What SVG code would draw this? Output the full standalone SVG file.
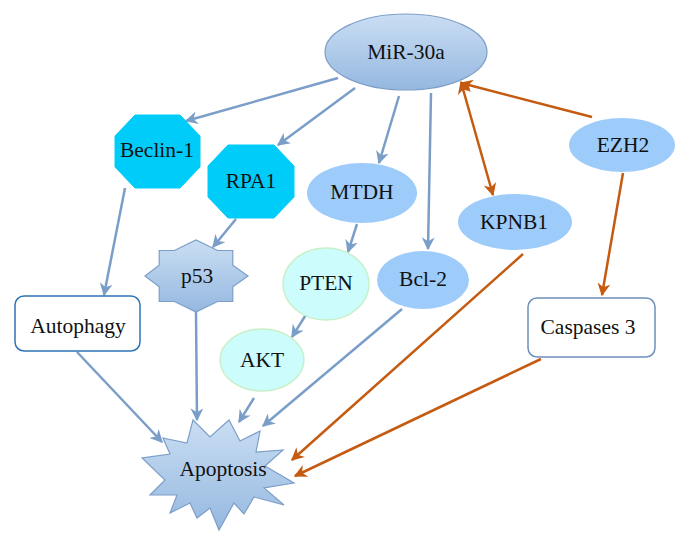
<svg xmlns="http://www.w3.org/2000/svg" width="690" height="546" viewBox="0 0 690 546">
<defs>
<linearGradient id="g" x1="0" y1="0" x2="0" y2="1">
<stop offset="0" stop-color="#cadef3"/>
<stop offset="1" stop-color="#95b8e0"/>
</linearGradient>
<marker id="ab" viewBox="0 0 10 10" refX="9" refY="5" markerWidth="13" markerHeight="13" markerUnits="userSpaceOnUse" orient="auto-start-reverse">
<path d="M0,0 L10,5 L0,10 L3,5 z" fill="#7b9ec9"/>
</marker>
<marker id="ao" viewBox="0 0 10 10" refX="9" refY="5" markerWidth="13" markerHeight="13" markerUnits="userSpaceOnUse" orient="auto-start-reverse">
<path d="M0,0 L10,5 L0,10 L3,5 z" fill="#c55a11"/>
</marker>
<style>
text{font-family:"Liberation Serif","DejaVu Serif",serif;font-size:21.5px;fill:#111;text-anchor:middle}
.grad{fill:url(#g);stroke:#7d9ec8;stroke-width:1.2}
.oct{fill:#00ccfa;stroke:#00ccfa}
.ell{fill:#9dcbfa}
.pale{fill:#ccfcfc;stroke:#c8f0c8;stroke-width:1.5}
.box{fill:#fff;stroke-width:1.5}
.b{stroke:#7b9ec9;stroke-width:2.5;fill:none;marker-end:url(#ab)}
.o{stroke:#c55a11;stroke-width:2.5;fill:none;marker-end:url(#ao)}
</style>
</defs>
<g id="connectors">
<line class="b" x1="338" y1="78" x2="186" y2="121"/>
<line class="b" x1="355" y1="88" x2="278" y2="145"/>
<line class="b" x1="399" y1="96" x2="379" y2="163"/>
<line class="b" x1="431" y1="93" x2="428" y2="249"/>
<line class="o" x1="493" y1="195" x2="461" y2="82" marker-start="url(#ao)"/>
<line class="o" x1="592" y1="117" x2="461" y2="83"/>
<line class="o" x1="623" y1="173" x2="602" y2="295"/>
<line class="b" x1="125" y1="188" x2="104" y2="295"/>
<line class="b" x1="236" y1="219" x2="213" y2="247"/>
<line class="b" x1="357" y1="224" x2="348" y2="252"/>
<line class="b" x1="307" y1="313" x2="292" y2="337"/>
<line class="b" x1="196" y1="312" x2="197" y2="420"/>
<line class="b" x1="77" y1="352" x2="162" y2="442"/>
<line class="b" x1="254" y1="398" x2="239" y2="422"/>
<line class="b" x1="402" y1="309" x2="263" y2="426"/>
<line class="o" x1="523" y1="254" x2="292" y2="460"/>
<line class="o" x1="541" y1="359" x2="295" y2="476"/>
</g>
<g id="mir30a">
<ellipse class="grad" cx="406" cy="52" rx="81" ry="38"/>
<text x="406" y="59">MiR-30a</text>
</g>
<g id="beclin1">
<polygon class="oct" points="135,115 180,115 200,136 200,167 180,188 135,188 115,167 115,136"/>
<text x="157" y="157">Beclin-1</text>
</g>
<g id="rpa1">
<polygon class="oct" points="228,145 274,145 294,166 294,197 274,218 228,218 208,197 208,166"/>
<text x="251" y="188">RPA1</text>
</g>
<g id="mtdh">
<ellipse class="ell" cx="362" cy="193" rx="55" ry="30"/>
<text x="362" y="199">MTDH</text>
</g>
<g id="kpnb1">
<ellipse class="ell" cx="515" cy="222" rx="57" ry="28"/>
<text x="514" y="229">KPNB1</text>
</g>
<g id="ezh2">
<ellipse class="ell" cx="622" cy="145" rx="53" ry="27"/>
<text x="623" y="152">EZH2</text>
</g>
<g id="bcl2">
<ellipse class="ell" cx="423" cy="280" rx="46" ry="29"/>
<text x="423" y="286">Bcl-2</text>
</g>
<g id="p53">
<polygon class="grad" points="248,276 232.8,286.8 232.8,301.5 217.6,301.5 196,312 174.4,301.5 159.2,301.5 159.2,286.8 145,276 159.2,265.2 159.2,250.5 174.4,250.5 196,240 217.6,250.5 232.8,250.5 232.8,265.2"/>
<text x="197" y="283">p53</text>
</g>
<g id="pten">
<ellipse class="pale" cx="326" cy="284" rx="43" ry="36"/>
<text x="326" y="290">PTEN</text>
</g>
<g id="akt">
<ellipse class="pale" cx="262" cy="360" rx="42" ry="31"/>
<text x="262" y="367">AKT</text>
</g>
<g id="autophagy">
<rect class="box" x="15" y="296" width="125" height="55" rx="9" stroke="#2e75b6"/>
<text x="78" y="333">Autophagy</text>
</g>
<g id="caspases3">
<rect class="box" x="528" y="298" width="127" height="59" rx="9" stroke="#6f8fbf"/>
<text x="588" y="334">Caspases 3</text>
</g>
<g id="apoptosis">
<polygon class="grad" points="193,420 210,437 229,420 240,441 260,431 256,452 283,450 265,466 294,483 264,488 284,505 254,497 244,514 234,503 219,530 210,508 197,518 190,503 170,513 177,495 150,495 165,480 142,458 170,454 163,438 187,443"/>
<text x="223" y="476">Apoptosis</text>
</g>
</svg>
